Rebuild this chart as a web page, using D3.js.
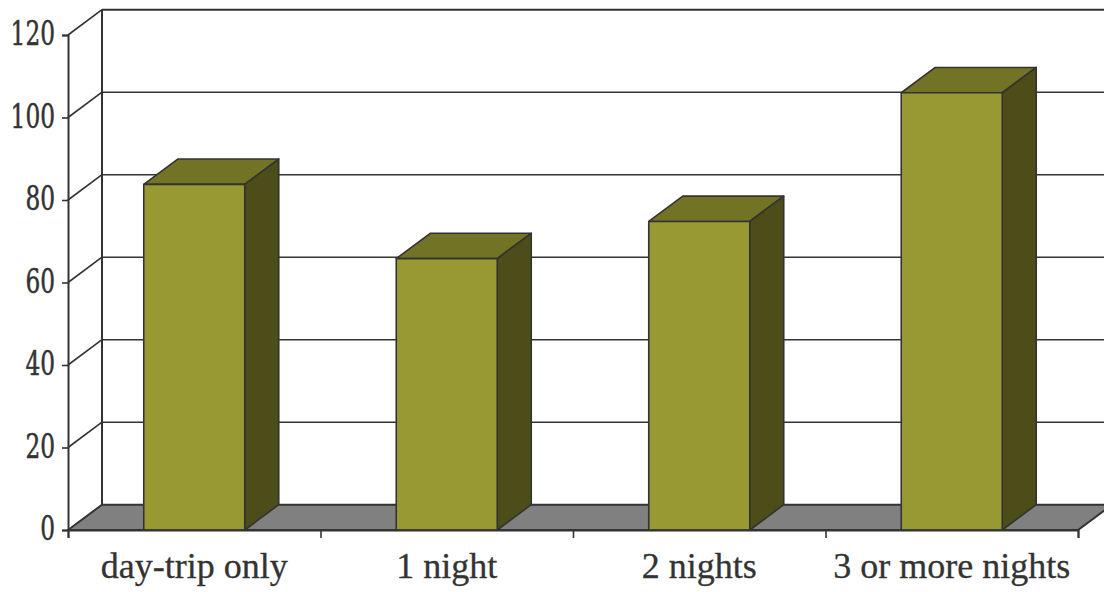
<!DOCTYPE html>
<html>
<head>
<meta charset="utf-8">
<style>
html,body{margin:0;padding:0;background:#fff;overflow:hidden}
text{font-family:"Liberation Serif",serif;fill:#333}
</style>
<script src="https://cdn.jsdelivr.net/npm/d3@7"></script>
</head>
<body>
<svg id="chart" width="1104" height="592"></svg>
<script>
// data
var CATEGORIES=["day-trip only","1 night","2 nights","3 or more nights"];
var VALUES=[83.8,65.8,74.8,106];
var Y_TICKS=[0,20,40,60,80,100,120];

// layout
var LEFT=68, RIGHT=1078, BOTTOM=530, TOP=35;
// depth of the fake 3d box
var DX=34, DY=-25.3;
var LINE="#333";

var svg=d3.select("#chart");

var x=d3.scaleBand().domain(CATEGORIES).range([LEFT,RIGHT]).paddingInner(0.6).paddingOuter(0.3);
var y=d3.scaleLinear().domain([0,120]).range([BOTTOM,TOP]);

function pts(a){return a.map(function(p){return p.join(",")}).join(" ")}

// floor
svg.append("polygon")
	.attr("points",pts([[LEFT,y(0)],[LEFT+DX,y(0)+DY],[RIGHT+DX,y(0)+DY],[RIGHT,y(0)]]))
	.style("fill","#808080")
	.style("stroke",LINE)
	.style("stroke-width",2);

// back wall lines + the slanted part on the side wall
Y_TICKS.forEach(function(t){
	if(t>0){
		svg.append("line")
			.attr("x1",LEFT).attr("y1",y(t))
			.attr("x2",LEFT+DX).attr("y2",y(t)+DY)
			.style("stroke",LINE).style("stroke-width",1.6);
		svg.append("line")
			.attr("x1",LEFT+DX).attr("y1",y(t)+DY)
			.attr("x2",1104).attr("y2",y(t)+DY)
			.style("stroke",LINE).style("stroke-width",t==120?2:1.5);
	}
});
svg.append("line")
	.attr("x1",LEFT+DX).attr("y1",y(120)+DY)
	.attr("x2",LEFT+DX).attr("y2",y(0)+DY)
	.style("stroke",LINE).style("stroke-width",2);

// bars
var bars=svg.selectAll("g.bar").data(CATEGORIES).enter().append("g").attr("class","bar");
bars.each(function(c,i){
	var g=d3.select(this);
	var x0=x(c), x1=x0+x.bandwidth(), yt=y(VALUES[i]), yb=y(0);
	g.append("polygon")
		.attr("points",pts([[x0,yt],[x0+DX,yt+DY],[x1+DX,yt+DY],[x1,yt]]))
		.style("fill","#737326");
	g.append("polygon")
		.attr("points",pts([[x1,yt],[x1+DX,yt+DY],[x1+DX,yb+DY],[x1,yb]]))
		.style("fill","#4d4d19");
	g.append("rect")
		.attr("x",x0).attr("y",yt)
		.attr("width",x.bandwidth()).attr("height",yb-yt)
		.style("fill","#999933");
	g.selectAll("polygon,rect")
		.style("stroke",LINE)
		.style("stroke-width",1.6)
		.style("stroke-linejoin","round");
});

// y axis
var yAxis=svg.append("g")
	.attr("transform","translate("+LEFT+",0)")
	.call(d3.axisLeft(y).tickValues(Y_TICKS).tickSize(6).tickPadding(7).tickFormat(d3.format("d")));
yAxis.selectAll("line").style("stroke",LINE).style("stroke-width",1.6);
yAxis.select(".domain").style("stroke",LINE).style("stroke-width",2);
// digits in the original are a condensed heavy serif, squeeze dejavu serif to get there
yAxis.selectAll("text")
	.style("font-family","'DejaVu Serif',serif")
	.style("font-size","33px")
	.style("fill","#333")
	.style("stroke","#333")
	.style("stroke-width",0.5)
	.attr("dy","0.3em")
	.attr("textLength",function(d){return String(d).length*14.8})
	.attr("lengthAdjust","spacingAndGlyphs");

// x axis, ticks sit on the band edges
var edge=d3.scaleLinear().domain([0,CATEGORIES.length]).range([LEFT,RIGHT]);
var xTicks=svg.append("g")
	.attr("transform","translate(0,"+BOTTOM+")")
	.call(d3.axisBottom(edge).tickValues(d3.range(CATEGORIES.length+1)).tickSize(8).tickFormat(""));
xTicks.selectAll("line").style("stroke",LINE).style("stroke-width",1.6);
xTicks.select(".domain").style("stroke",LINE).style("stroke-width",2);

var xLabels=svg.append("g")
	.attr("transform","translate(0,"+BOTTOM+")")
	.call(d3.axisBottom(x).tickSize(0).tickPadding(22));
xLabels.select(".domain").remove();
xLabels.selectAll("text")
	.style("font-size","36px")
	.style("fill","#333")
	.style("stroke","#333")
	.style("stroke-width",0.3);
</script>
</body>
</html>
